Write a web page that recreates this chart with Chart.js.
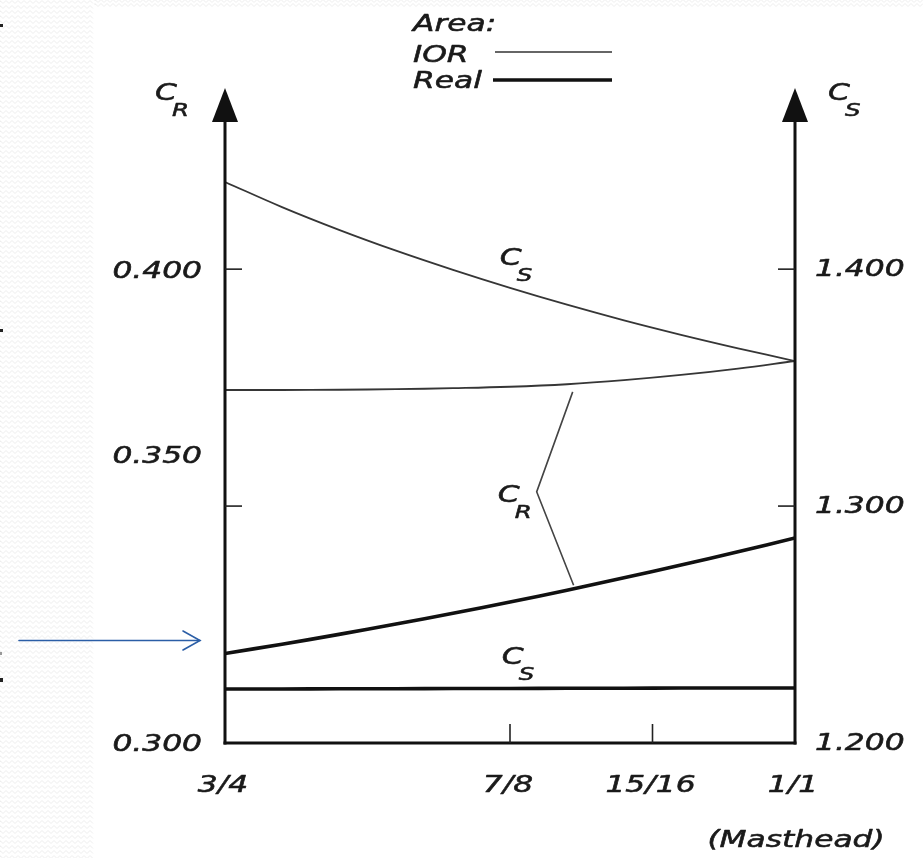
<!DOCTYPE html>
<html>
<head>
<meta charset="utf-8">
<script src="https://cdn.jsdelivr.net/npm/chart.js@4.4.1/dist/chart.umd.min.js"></script>
<style>
  html, body { margin: 0; padding: 0; background: #fff; }
  canvas { display: block; }
</style>
</head>
<body>
<canvas id="c" width="923" height="858"></canvas>
<script>
// Rig fraction (fore-triangle height / mast height) at which the curves are sampled
const rigFraction = [0.75, 0.775, 0.8, 0.825, 0.85, 0.875, 0.9, 0.925, 0.95, 0.975, 1.0];

// Coefficients for the two sail-area methods
const iorCS  = [1.4368, 1.4262, 1.4166, 1.4078, 1.3997, 1.3921, 1.3850, 1.3784, 1.3723, 1.3666, 1.3612];
const iorCR  = [0.37450, 0.37450, 0.37455, 0.37467, 0.37488, 0.37518, 0.37571, 0.37657, 0.37767, 0.37902, 0.38062];
const realCR = [0.31889, 0.32085, 0.32292, 0.32510, 0.32737, 0.32976, 0.33225, 0.33485, 0.33755, 0.34035, 0.34327];
const realCS = [1.2228, 1.2228, 1.2229, 1.2229, 1.2230, 1.2230, 1.2231, 1.2231, 1.2232, 1.2232, 1.2232];

// Axis ticks
const xTickValues  = [0.75, 0.875, 0.9375, 1.0];
const xTickLabels  = ['3/4', '7/8', '15/16', '1/1'];
const crTickValues = [0.30, 0.35, 0.40];
const crTickLabels = ['0.300', '0.350', '0.400'];
const csTickValues = [1.2, 1.3, 1.4];
const csTickLabels = ['1.200', '1.300', '1.400'];

// ---- drawing style ----
const SX = 1.36;                       // wide lettering
const FONT = '"DejaVu Sans", sans-serif';
const INK = '#1a1a1a';
const crLabelNudge = [0, -51, 0];      // vertical nudge of the left tick labels (px)

// Annotation anchors in data units (x: rig fraction, y: C_R axis)
const notes = {
  upperCS: { x: 0.8705, y: 0.4045 },
  lowerCS: { x: 0.8714, y: 0.3203 },
  crText:  { x: 0.8696, y: 0.3545 },
  bracket: [ { x: 0.9025, y: 0.3741 }, { x: 0.8867, y: 0.3530 }, { x: 0.9029, y: 0.3333 } ]
};

function text(ctx, s, x, y, size, align) {
  ctx.save();
  ctx.translate(x, y);
  ctx.scale(SX, 1);
  ctx.font = `italic ${size}px ${FONT}`;
  ctx.textAlign = align || 'left';
  ctx.textBaseline = 'alphabetic';
  ctx.fillStyle = INK;
  ctx.strokeStyle = INK;
  ctx.lineWidth = 0.55;
  ctx.lineJoin = 'round';
  ctx.fillText(s, 0, 0);
  ctx.strokeText(s, 0, 0);
  ctx.restore();
}

// Symbol with subscript; (x, top) is the top-left corner of the capital
function symbol(ctx, main, sub, x, top) {
  text(ctx, main, x, top + 17, 23);
  text(ctx, sub, x + 17, top + 20 + 13, 18);
}

function line(ctx, x1, y1, x2, y2, w, color) {
  ctx.beginPath();
  ctx.moveTo(x1, y1);
  ctx.lineTo(x2, y2);
  ctx.lineWidth = w;
  ctx.strokeStyle = color;
  ctx.stroke();
}

function wavy(ctx, x0, x1, y) {
  ctx.beginPath();
  ctx.moveTo(x0, y);
  for (let x = x0; x <= x1; x += 3) {
    ctx.lineTo(x, y + ((Math.round((x - x0) / 3) % 2) ? 1.5 : -1.5));
  }
  ctx.stroke();
}

const paperEdge = {
  id: 'paperEdge',
  beforeDraw(chart) {
    const ctx = chart.ctx;
    ctx.save();
    ctx.strokeStyle = 'rgba(0,0,0,0.07)';
    ctx.lineWidth = 1;
    for (let y = 2; y < chart.height; y += 5) wavy(ctx, 0, 95, y);
    for (let y = 1; y < 7; y += 4) wavy(ctx, 95, chart.width, y);
    ctx.fillStyle = '#222';
    ctx.fillRect(0, 24, 3, 3);
    ctx.fillRect(0, 329, 3, 3);
    ctx.fillRect(0, 678, 3, 4);
    ctx.fillStyle = '#999';
    ctx.fillRect(0, 652, 2, 3);
    ctx.restore();
  }
};

const frame = {
  id: 'frame',
  afterDatasetsDraw(chart) {
    const ctx = chart.ctx;
    const { left, right, top, bottom } = chart.chartArea;
    const xs = chart.scales.x, yl = chart.scales.yCR, yr = chart.scales.yCS;
    ctx.save();
    ctx.lineCap = 'butt';

    // axes with arrow heads
    const base = top - 5, tip = top - 39;
    line(ctx, left, bottom + 1.5, left, base, 3, '#111');
    line(ctx, right, bottom + 1.5, right, base, 3, '#111');
    line(ctx, left - 1.5, bottom, right + 1.5, bottom, 3, '#111');
    ctx.fillStyle = '#111';
    [left, right].forEach(ax => {
      ctx.beginPath();
      ctx.moveTo(ax, tip);
      ctx.lineTo(ax - 13, base);
      ctx.lineTo(ax + 13, base);
      ctx.closePath();
      ctx.fill();
    });

    // inward ticks and labels
    crTickValues.forEach((v, i) => {
      const py = yl.getPixelForValue(v);
      if (i > 0) line(ctx, left, py, left + 17, py, 1.6, '#222');
      text(ctx, crTickLabels[i], left - 23, py + 8.4 + crLabelNudge[i], 23, 'right');
    });
    csTickValues.forEach((v, i) => {
      const py = yr.getPixelForValue(v);
      if (i > 0) line(ctx, right - 17, py, right, py, 1.6, '#222');
      text(ctx, csTickLabels[i], right + 20, py + 7, 23, 'left');
    });
    xTickValues.forEach((v, i) => {
      const px = xs.getPixelForValue(v);
      if (i > 0 && i < xTickValues.length - 1) line(ctx, px, bottom, px, bottom - 19, 1.6, '#222');
      text(ctx, xTickLabels[i], px - 2, bottom + 49, 23, 'center');
    });
    text(ctx, '(Masthead)', right + 1, bottom + 104, 23, 'center');

    // axis titles
    symbol(ctx, 'C', 'R', left - 70, top - 44);
    symbol(ctx, 'C', 'S', right + 33, top - 44);

    // key
    text(ctx, 'Area:', 413, 30.5, 23);
    text(ctx, 'IOR', 413, 61.5, 23);
    text(ctx, 'Real', 413, 88, 23);
    line(ctx, 495, 52, 612, 52, 1.7, '#333');
    line(ctx, 493, 80, 612, 80, 3.5, '#111');

    // curve labels
    const P = a => ({ x: xs.getPixelForValue(a.x), y: yl.getPixelForValue(a.y) });
    let p = P(notes.upperCS); symbol(ctx, 'C', 'S', p.x, p.y);
    p = P(notes.lowerCS);     symbol(ctx, 'C', 'S', p.x, p.y);
    p = P(notes.crText);      symbol(ctx, 'C', 'R', p.x, p.y);
    const b = notes.bracket.map(P);
    ctx.beginPath();
    ctx.moveTo(b[0].x, b[0].y);
    ctx.lineTo(b[1].x, b[1].y);
    ctx.lineTo(b[2].x, b[2].y);
    ctx.lineWidth = 1.6;
    ctx.strokeStyle = '#444';
    ctx.lineJoin = 'miter';
    ctx.stroke();

    // blue pointer on the left margin
    const ay = yl.getPixelForValue(realCR[0]) - 13;
    const ax = left - 25;
    ctx.lineCap = 'round';
    line(ctx, 19, ay, ax, ay, 1.6, '#2b5ea6');
    ctx.beginPath();
    ctx.moveTo(ax - 17, ay - 9.5);
    ctx.lineTo(ax, ay);
    ctx.lineTo(ax - 17, ay + 9.5);
    ctx.lineWidth = 1.6;
    ctx.strokeStyle = '#2b5ea6';
    ctx.stroke();
    ctx.restore();
  }
};

const pts = arr => rigFraction.map((x, i) => ({ x, y: arr[i] }));
const thin  = { borderColor: '#363636', borderWidth: 1.8 };
const thick = { borderColor: '#111111', borderWidth: 3.6 };

new Chart(document.getElementById('c'), {
  type: 'line',
  data: {
    datasets: [
      { label: 'IOR C_S',  data: pts(iorCS),  yAxisID: 'yCS', ...thin },
      { label: 'IOR C_R',  data: pts(iorCR),  yAxisID: 'yCR', ...thin },
      { label: 'Real C_R', data: pts(realCR), yAxisID: 'yCR', ...thick },
      { label: 'Real C_S', data: pts(realCS), yAxisID: 'yCS', ...thick }
    ]
  },
  options: {
    responsive: false,
    animation: false,
    devicePixelRatio: 1,
    layout: { padding: { left: 225, right: 128, top: 127, bottom: 115 } },
    elements: {
      point: { radius: 0 },
      line: { tension: 0.4, borderCapStyle: 'butt' }
    },
    plugins: { legend: { display: false }, tooltip: { enabled: false } },
    scales: {
      x:   { type: 'linear', min: 0.75, max: 1.0, display: false },
      yCR: { type: 'linear', position: 'left',  min: 0.30, max: 0.43, display: false },
      yCS: { type: 'linear', position: 'right', min: 1.20, max: 1.46, display: false }
    }
  },
  plugins: [paperEdge, frame]
});
</script>
</body>
</html>
